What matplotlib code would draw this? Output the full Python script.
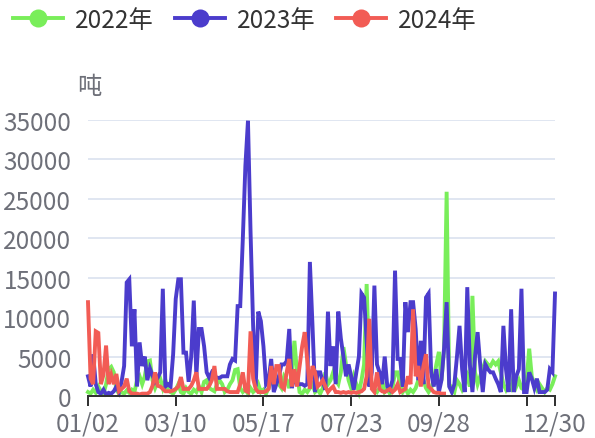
import matplotlib
matplotlib.use('Agg')
import matplotlib.pyplot as plt
from matplotlib.lines import Line2D
import pandas as pd

plt.rcParams['font.family'] = ['Noto Sans CJK SC', 'DejaVu Sans']

# ---- category axis (sampled dates, MM/DD) ----
anchor_dates = ["2023-01-02", "2023-03-10", "2023-05-17", "2023-07-23",
                "2023-09-28", "2023-12-04", "2023-12-30"]
anchor_steps = [34, 34, 34, 34, 34, 11]
cats = []
for a, b, n in zip(anchor_dates[:-1], anchor_dates[1:], anchor_steps):
    seg = pd.date_range(a, b, periods=n + 1).round('D')
    cats.extend(seg[:-1])
cats.append(pd.Timestamp(anchor_dates[-1]))
categories = [d.strftime('%m/%d') for d in cats]

tick_dates = ["01/02", "03/10", "05/17", "07/23", "09/28", "12/04", "12/30"]
tick_texts = ["01/02", "03/10", "05/17", "07/23", "09/28", "", "12/30"]
y_ticks = [0, 5000, 10000, 15000, 20000, 25000, 30000, 35000]

series_names = ["2022年", "2023年", "2024年"]
series_colors = ["#79ee5a", "#4b3ccc", "#f25c55"]

v2022 = [500, 300, 800, 400, 1200, 600, 300, 1500, 3400, 3700,
         3000, 800, 300, 500, 300, 700, 400, 800, 500, 2000,
         2500, 1500, 2500, 4400, 4500, 2000, 1000, 1800, 2200, 1000,
         2000, 800, 500, 300, 800, 1500, 500, 300, 1000, 500,
         300, 800, 500, 1200, 500, 1800, 2000, 1000, 800, 600,
         1500, 2000, 1500, 500, 800, 1500, 2000, 3300, 3400, 1000,
         500, 800, 300, 1000, 500, 800, 1500, 500, 800, 300,
         1000, 2000, 3400, 2000, 1500, 1000, 2500, 2000, 1000, 3000,
         7000, 3000, 500, 300, 800, 500, 1000, 1500, 500, 800,
         300, 1000, 3000, 1500, 2000, 3000, 2000, 1500, 3000, 6200,
         4000, 2000, 1000, 2500, 1500, 500, 2000, 4000, 14200, 3000,
         1500, 800, 500, 1000, 2000, 500, 800, 300, 1000, 3000,
         3000, 1500, 500, 1000, 300, 800, 500, 1000, 2000, 3000,
         2000, 1000, 500, 1000, 2000, 4000, 5600, 2000, 6000, 25900,
         1500, 1000, 500, 2000, 1500, 800, 1500, 2500, 1200, 12700,
         3000, 1500, 2500, 3500, 4400, 4000, 3800, 4400, 4000, 4400,
         3000, 1500, 800, 1500, 1000, 2500, 1200, 2000, 1000, 800,
         2000, 6000, 2500, 1500, 800, 1500, 1000, 500, 1000, 800,
         1500, 2500]

v2023 = [2500, 1200, 5300, 1500, 500, 300, 800, 200, 400, 300,
         600, 1200, 500, 1800, 3800, 14400, 14800, 6300, 11000, 1200,
         6800, 3800, 5000, 2000, 3500, 2600, 1800, 2300, 3000, 13600,
         1200, 1500, 1200, 5300, 12300, 14800, 14800, 5500, 5500, 1800,
         5000, 12100, 2500, 8500, 8500, 6300, 3000, 2300, 3000, 2600,
         2300, 2300, 2500, 2500, 2500, 4000, 4700, 4500, 11400, 11400,
         19900, 29200, 34900, 20800, 8900, 1200, 10700, 9500, 6300, 1500,
         2000, 4700, 500, 1500, 2500, 4000, 4000, 4400, 8500, 1000,
         2500, 1500, 1500, 1500, 1300, 1500, 17000, 9000, 500, 3000,
         3000, 1800, 800, 10700, 3800, 6300, 1500, 10700, 7300, 5000,
         2500, 4000, 2500, 800, 3000, 5000, 13000, 12500, 7000, 1200,
         3000, 14000, 4000, 3000, 1500, 5000, 1200, 800, 2000, 15900,
         4700, 4700, 1200, 11900, 8100, 11900, 11900, 8500, 2000, 7000,
         1500, 12500, 13000, 3000, 1200, 3400, 500, 2000, 6000, 11900,
         1200, 500, 1500, 5000, 8900, 3400, 500, 13800, 4000, 500,
         5000, 8100, 4000, 500, 4000, 3400, 3000, 3000, 2200, 1500,
         500, 8900, 3400, 500, 11000, 500, 2500, 3400, 13600, 500,
         500, 3000, 2200, 1000, 2200, 500, 500, 500, 800, 3400,
         3000, 13000]

v2024 = [11900, 2200, 1500, 8200, 8000, 1500, 2700, 6400, 1500, 2700,
         1500, 2800, 600, 900, 1200, 2200, 600, 300, 300, 300,
         200, 300, 300, 300, 500, 1300, 3000, 1300, 1200, 900,
         600, 600, 600, 700, 900, 1200, 2400, 900, 900, 900,
         1300, 2000, 3000, 900, 900, 900, 900, 1300, 2000, 3800,
         900, 900, 900, 900, 600, 500, 500, 500, 500, 1500,
         3000, 700, 500, 8200, 2200, 900, 500, 500, 500, 600,
         900, 3800, 1500, 3800, 3800, 1200, 900, 3000, 4700, 1200,
         3400, 1200, 3800, 6300, 8100, 4400, 900, 3800, 3000, 1200,
         1500, 2000, 1200, 500, 900, 1200, 500, 500, 400, 500,
         400, 500, 400, 500, 400, 500, 600, 900, 2500, 9800,
         900, 500, 3000, 900, 600, 500, 700, 900, 500, 800,
         1500, 500, 700, 900, 2500, 1500, 11000, 2500, 3800, 1200,
         3800, 5300, 1200, 900, 500, 400, 400, 300, 300]

W, H = 595, 439
fig = plt.figure(figsize=(W / 100, H / 100), dpi=100)
ax = fig.add_axes([88 / W, (H - 397) / H, (555 - 88) / W, (397 - 121) / H])

FS = 17.5
LW = 2.8
x_all = list(range(len(categories)))
handles = []
for vals, name, col in zip([v2022, v2023, v2024], series_names, series_colors):
    xs = x_all[:len(vals)]
    ax.plot(xs, vals, color=col, lw=LW, clip_on=False, zorder=3,
            solid_joinstyle='miter')
    handles.append(Line2D([], [], color=col, lw=LW, marker='o', ms=13,
                          markeredgewidth=0))

ax.set_xlim(0, len(categories) - 1)
ax.set_ylim(0, 35000)
ax.set_yticks(y_ticks)
ax.set_yticklabels([str(v) for v in y_ticks])
tick_pos = [categories.index(t) for t in tick_dates]
ax.set_xticks(tick_pos)
ax.set_xticklabels(tick_texts)

ax.grid(axis='y', color='#e0e6f1', lw=1.44, zorder=0)
ax.set_axisbelow(True)
for s in ['top', 'right', 'left']:
    ax.spines[s].set_visible(False)
ax.spines['bottom'].set_color('#333333')
ax.spines['bottom'].set_linewidth(1.44)
ax.spines['bottom'].set_zorder(4)
ax.tick_params(axis='x', length=7.2, width=1.44, color='#333333',
               labelcolor='#6e7079', labelsize=FS, pad=3)
ax.tick_params(axis='y', length=0, labelcolor='#6e7079', labelsize=FS, pad=12)

fig.text(89 / W, 1 - 87 / H, '吨', ha='center', va='center',
         color='#6e7079', fontsize=FS)

fig.legend(handles=handles, labels=series_names, loc='center left',
           bbox_to_anchor=(13 / W, 1 - 21 / H), ncol=3, frameon=False,
           fontsize=FS, handlelength=2.06, handletextpad=0.5,
           columnspacing=0.85, borderpad=0, borderaxespad=0,
           labelcolor='#333333')

fig.savefig('out.png', dpi=100, facecolor='white')
